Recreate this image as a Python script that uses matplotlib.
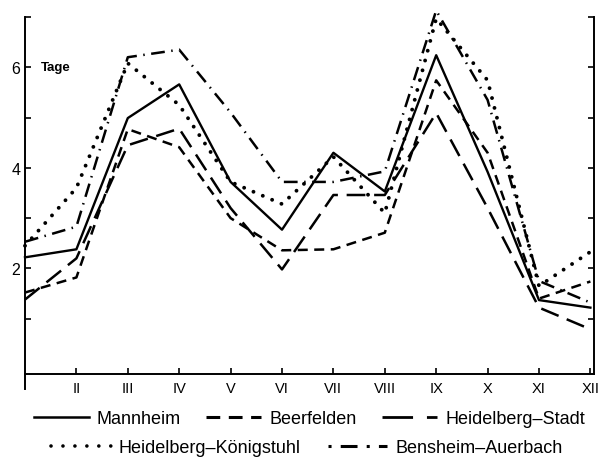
import matplotlib
matplotlib.use("Agg")
import matplotlib.pyplot as plt
from matplotlib.lines import Line2D

plt.rcParams['font.family'] = ['Liberation Sans', 'DejaVu Sans']

months = ['I', 'II', 'III', 'IV', 'V', 'VI', 'VII', 'VIII', 'IX', 'X', 'XI', 'XII']
mannheim = [2.22, 2.38, 4.99, 5.66, 3.72, 2.77, 4.30, 3.53, 6.24, 3.92, 1.37, 1.22]
beerfelden = [1.52, 1.82, 4.77, 4.41, 3.00, 2.36, 2.38, 2.71, 5.74, 4.30, 1.40, 1.74]
hd_stadt = [1.38, 2.20, 4.45, 4.78, 3.20, 1.98, 3.46, 3.46, 5.09, 3.20, 1.22, 0.79]
koenigstuhl = [2.45, 3.60, 6.08, 5.25, 3.72, 3.28, 4.22, 3.10, 6.97, 5.74, 1.65, 2.33]
bensheim = [2.53, 2.83, 6.20, 6.35, 5.10, 3.72, 3.72, 3.93, 7.13, 5.35, 1.75, 1.32]
names = ['Mannheim', 'Beerfelden', 'Heidelberg\u2013Stadt',
         'Heidelberg\u2013Königstuhl', 'Bensheim\u2013Auerbach']
ytick_vals = [1, 2, 3, 4, 5, 6, 7]
ytick_labels = ['', '2', '', '4', '', '6', '']

styles = [
    dict(linestyle='-', lw=1.7),
    dict(linestyle=(0, (4.0, 2.6)), lw=1.8),
    dict(linestyle=(0, (7.5, 3.5)), lw=1.8),
    dict(linestyle=(0, (0.01, 2.6)), lw=2.8, dash_capstyle='round'),
    dict(linestyle=(0, (5.5, 2.6, 0.6, 2.6)), lw=1.8),
]
leg_styles = [
    dict(linestyle='-', lw=1.8),
    dict(linestyle=(0, (4.5, 2.8)), lw=2.2),
    dict(linestyle=(0, (11, 5)), lw=2.0),
    dict(linestyle=(0, (0.01, 3.3)), lw=2.6, dash_capstyle='round'),
    dict(linestyle=(0, (1.0, 3.0, 5.5, 3.0)), lw=2.2, dash_capstyle='butt'),
]
series = [mannheim, beerfelden, hd_stadt, koenigstuhl, bensheim]

fig = plt.figure(figsize=(6.03, 4.6), dpi=100)
ax = fig.add_axes([25/603, 1 - 375/460, (594 - 25)/603, (375 - 18)/460])
x = list(range(1, 13))
for s, st in zip(series, styles):
    ax.plot(x, s, color='black', clip_on=False, **st)

ax.set_xlim(1, 12.07)
ax.set_ylim(-0.1, 7)
ax.spines['top'].set_visible(False)
ax.spines['left'].set_bounds(-0.4, 7)
for sp in ax.spines.values():
    sp.set_linewidth(1.4)
ax.set_xticks(x[1:])
ax.set_xticklabels(months[1:], fontsize=10.5)
ax.set_yticks(ytick_vals)
ax.set_yticklabels(ytick_labels, fontsize=11.5)
ax.tick_params(axis='both', direction='in', length=4, width=1.2, right=True, labelright=False)
ax.tick_params(axis='x', pad=5)
ax.text(1.3, 6, 'Tage', fontsize=9.5, fontweight='bold', va='center', ha='left')

handles = [Line2D([], [], color='black', **st) for st in leg_styles]
fig.legend(handles[:3], names[:3], loc='center', bbox_to_anchor=(0.513, 1 - 420/460),
           ncol=3, frameon=False, fontsize=13, handlelength=3.05,
           handletextpad=0.45, columnspacing=1.4, borderaxespad=0, borderpad=0)
fig.legend(handles[3:], names[3:], loc='center', bbox_to_anchor=(0.509, 1 - 449/460),
           ncol=2, frameon=False, fontsize=13, handlelength=3.3,
           handletextpad=0.45, columnspacing=1.5, borderaxespad=0, borderpad=0)

fig.savefig('out.png', dpi=100)
